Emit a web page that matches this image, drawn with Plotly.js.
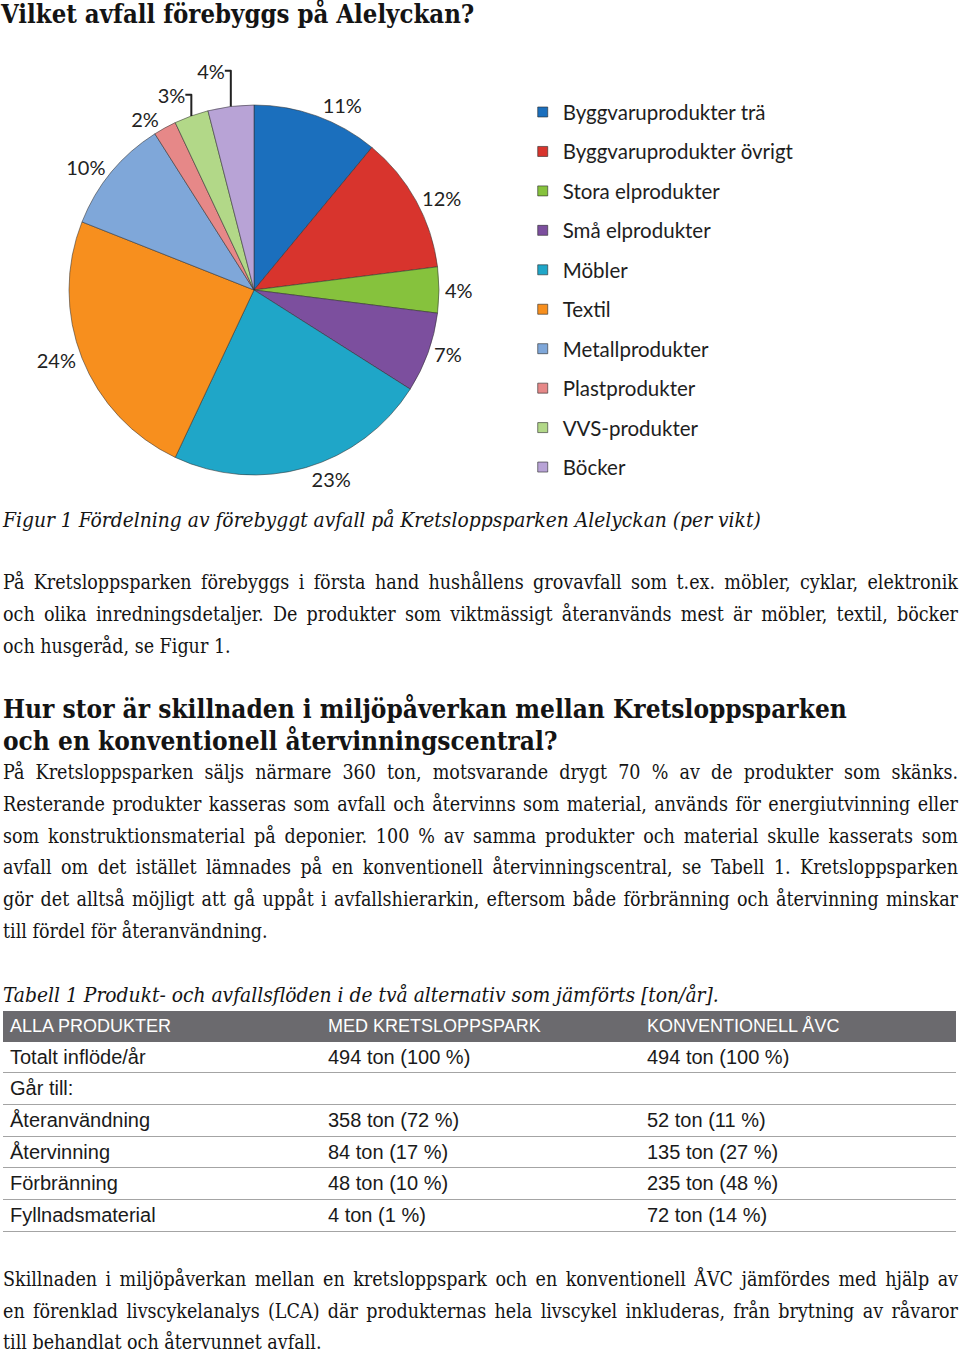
<!DOCTYPE html>
<html><head><meta charset="utf-8">
<script src="https://cdn.plot.ly/plotly-3.0.1.min.js"></script>
<style>
body{margin:0;background:#fff;}
#page{position:relative;width:960px;height:1353px;overflow:hidden;color:#141414;}
.serif{font-family:"DejaVu Serif Condensed","DejaVu Serif",serif;font-stretch:condensed;}
.blk{position:absolute;left:3px;width:955px;}
.ln{white-space:nowrap;text-align:justify;text-align-last:justify;word-spacing:-2px;}
.ll{white-space:nowrap;text-align:left;}
#pie{position:absolute;left:0;top:40px;width:960px;height:470px;}
table{border-collapse:collapse;font-family:"Liberation Sans",Arial,sans-serif;}
td,th{padding:0 0 0 7px;text-align:left;height:30.7px;}
th{background:#6b6a6e;color:#fff;font-weight:normal;font-size:18px;}
td{font-size:20px;color:#1a1a1a;border-bottom:1.5px solid #a4a4a4;}
</style></head>
<body><div id="page">
<div class="blk serif" style="top:-1px;left:1px;font-size:25.5px;line-height:30px;font-weight:bold;">Vilket avfall förebyggs på Alelyckan?</div>
<div id="pie"></div>
<div class="blk serif ll" style="top:504px;font-size:20.8px;line-height:32px;font-style:italic;">Figur 1 Fördelning av förebyggt avfall på Kretsloppsparken Alelyckan (per vikt)</div>
<div class="blk serif" style="top:567px;font-size:19.5px;line-height:32px;">
<div class="ln">På Kretsloppsparken förebyggs i första hand hushållens grovavfall som t.ex. möbler, cyklar, elektronik</div>
<div class="ln">och olika inredningsdetaljer. De produkter som viktmässigt återanvänds mest är möbler, textil, böcker</div>
<div class="ll">och husgeråd, se Figur 1.</div>
</div>
<div class="blk serif" style="top:693px;font-size:26px;line-height:32px;font-weight:bold;">
<div class="ll">Hur stor är skillnaden i miljöpåverkan mellan Kretsloppsparken</div>
<div class="ll">och en konventionell återvinningscentral?</div>
</div>
<div class="blk serif" style="top:757px;font-size:19.5px;line-height:31.8px;">
<div class="ln">På Kretsloppsparken säljs närmare 360 ton, motsvarande drygt 70 % av de produkter som skänks.</div>
<div class="ln">Resterande produkter kasseras som avfall och återvinns som material, används för energiutvinning eller</div>
<div class="ln">som konstruktionsmaterial på deponier. 100 % av samma produkter och material skulle kasserats som</div>
<div class="ln">avfall om det istället lämnades på en konventionell återvinningscentral, se Tabell 1. Kretsloppsparken</div>
<div class="ln">gör det alltså möjligt att gå uppåt i avfallshierarkin, eftersom både förbränning och återvinning minskar</div>
<div class="ll">till fördel för återanvändning.</div>
</div>
<div class="blk serif ll" style="top:979px;font-size:20.8px;line-height:32px;font-style:italic;">Tabell 1 Produkt- och avfallsflöden i de två alternativ som jämförts [ton/år].</div>
<table id="tbl" style="position:absolute;left:3px;top:1011px;width:953px;"></table>
<div class="blk serif" style="top:1264px;font-size:19.5px;line-height:31.6px;">
<div class="ln">Skillnaden i miljöpåverkan mellan en kretsloppspark och en konventionell ÅVC jämfördes med hjälp av</div>
<div class="ln">en förenklad livscykelanalys (LCA) där produkternas hela livscykel inkluderas, från brytning av råvaror</div>
<div class="ll">till behandlat och återvunnet avfall.</div>
</div>
</div>
<script>
// Pie data
const categories = ["Byggvaruprodukter trä","Byggvaruprodukter övrigt","Stora elprodukter","Små elprodukter","Möbler","Textil","Metallprodukter","Plastprodukter","VVS-produkter","Böcker"];
const shares = [11,12,4,7,23,24,10,2,3,4];
const colors = ["#1b6fbd","#d8342d","#86c23d","#7c4f9e","#1fa6c8","#f78f1e","#7fa7d9","#e68888","#b2d888","#b8a3d6"];

// Table data
const tableHeader = ["ALLA PRODUKTER","MED KRETSLOPPSPARK","KONVENTIONELL ÅVC"];
const flowLabels = ["Totalt inflöde/år","Går till:","Återanvändning","Återvinning","Förbränning","Fyllnadsmaterial"];
const kretsTon = [494,null,358,84,48,4];
const kretsPct = [100,null,72,17,10,1];
const avcTon = [494,null,52,135,235,72];
const avcPct = [100,null,11,27,48,14];

const W = 960, H = 470;
const cx = 254, cy = 290 - 40, r = 185;
const labelFont = {family:'Lato, "Open Sans", sans-serif', size:20, color:'#222'};
const traces = [{
  type:'pie', values:shares, labels:categories, sort:false, direction:'clockwise', rotation:0,
  marker:{colors:colors, line:{color:'rgba(50,50,50,0.55)', width:1}},
  textposition:'outside', texttemplate:'%{percent:.0%}',
  textfont:labelFont, outsidetextfont:labelFont,
  showlegend:false, hoverinfo:'label+percent',
  domain:{x:[(cx-r)/W,(cx+r)/W], y:[1-(cy+r)/H, 1-(cy-r)/H]}
}];
categories.forEach((c,i)=>{
  traces.push({type:'scatter', mode:'markers', x:[null], y:[null], name:c,
    legendgroup:'g'+i, showlegend:true, hoverinfo:'skip',
    marker:{symbol:'square', size:10, color:colors[i], line:{color:'rgba(40,40,40,0.6)', width:1}}});
});
const layout = {
  width:W, height:H, margin:{l:0,r:0,t:0,b:0},
  paper_bgcolor:'#fff', plot_bgcolor:'rgba(0,0,0,0)',
  xaxis:{visible:false, domain:[0.99,1]}, yaxis:{visible:false, domain:[0.99,1]},
  showlegend:true,
  legend:{x:0.5445, y:0.889, xanchor:'left', yanchor:'top', tracegroupgap:9.8,
    font:{family:'Lato, "Open Sans", sans-serif', size:20.5, color:'#1e1e1e'}, bgcolor:'rgba(0,0,0,0)'}
};
Plotly.newPlot('pie', traces, layout, {displayModeBar:false, staticPlot:true});

// Build table from arrays
const tbl = document.getElementById('tbl');
let html = '<tr>' + tableHeader.map(h=>'<th>'+h+'</th>').join('') + '</tr>';
const fmt = (t,p)=> t===null ? '' : t + ' ton (' + p + ' %)';
flowLabels.forEach((lab,i)=>{
  html += '<tr><td style="width:311px">'+lab+'</td><td style="width:312px">'+fmt(kretsTon[i],kretsPct[i])+'</td><td>'+fmt(avcTon[i],avcPct[i])+'</td></tr>';
});
tbl.innerHTML = html;
</script>
</body></html>
